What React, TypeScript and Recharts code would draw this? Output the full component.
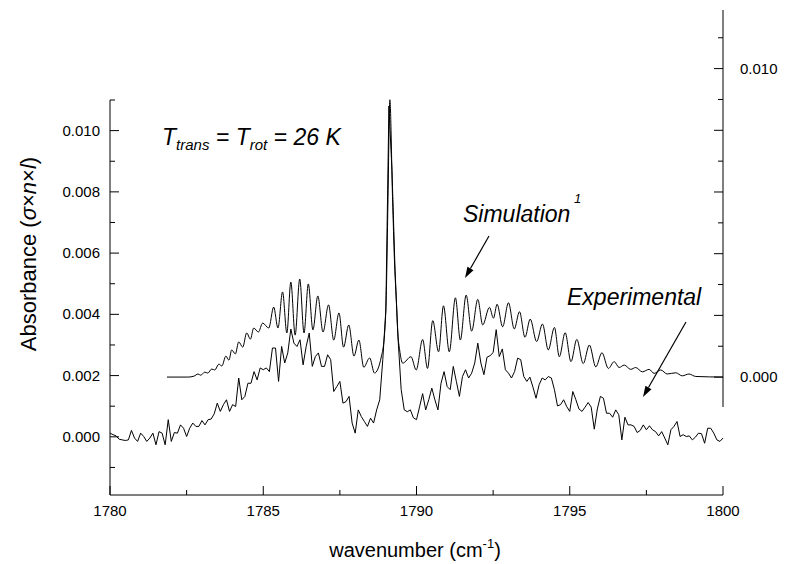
import React from "react";
import { LineChart, Line, XAxis, YAxis } from "recharts";

const FONT = '"Liberation Sans", Arial, Helvetica, sans-serif';

// x axis (wavenumber, cm-1)
const xTicks = [1780, 1782.5, 1785, 1787.5, 1790, 1792.5, 1795, 1797.5, 1800];
// left axis (absorbance), labels on the even ones
const leftTicks = [-0.001, 0, 0.001, 0.002, 0.003, 0.004, 0.005, 0.006, 0.007, 0.008, 0.009, 0.01, 0.011];
// right axis of the simulation, only 0.000 and 0.010 labelled
const rightTicks = [0, 0.001, 0.002, 0.003, 0.004, 0.005, 0.006, 0.007, 0.008, 0.009, 0.01, 0.011];
const rightLabels = [0, 0.01];

// simulated spectrum (right axis units)
const simWn = [
  1781.86, 1782.54, 1782.74, 1782.87, 1782.96, 1783.09, 1783.19, 1783.32, 1783.42, 1783.55,
  1783.65, 1783.78, 1783.88, 1783.97, 1784.09, 1784.2, 1784.33, 1784.46, 1784.58, 1784.69,
  1784.84, 1784.98, 1785.18, 1785.34, 1785.48, 1785.63, 1785.77, 1785.9, 1786.04, 1786.19,
  1786.33, 1786.47, 1786.62, 1786.78, 1786.95, 1787.13, 1787.3, 1787.47, 1787.62, 1787.79,
  1787.96, 1788.12, 1788.28, 1788.47, 1788.63, 1788.85, 1788.96, 1789.01, 1789.07, 1789.13,
  1789.22, 1789.28, 1789.34, 1789.39, 1789.45, 1789.55, 1789.82, 1789.99, 1790.2, 1790.36,
  1790.53, 1790.72, 1790.88, 1791.07, 1791.27, 1791.43, 1791.62, 1791.8, 1792.0, 1792.16,
  1792.38, 1792.51, 1792.63, 1792.81, 1793.0, 1793.19, 1793.36, 1793.54, 1793.71, 1793.92,
  1794.11, 1794.3, 1794.5, 1794.66, 1794.85, 1795.04, 1795.23, 1795.44, 1795.64, 1795.85,
  1796.05, 1796.26, 1796.45, 1796.61, 1796.78, 1796.99, 1797.15, 1797.37, 1797.59, 1797.75,
  1797.97, 1798.18, 1798.46, 1798.67, 1798.89, 1799.11, 1800,
];
const simAbs = [
  0, 0, 0.00003, 0.0001, 0.00006, 0.00016, 0.00013, 0.00026, 0.00023, 0.00042,
  0.00036, 0.00068, 0.00055, 0.00088, 0.00075, 0.00114, 0.00097, 0.00143, 0.00123, 0.00159,
  0.00146, 0.00175, 0.00159, 0.00227, 0.00159, 0.00276, 0.00143, 0.00308, 0.00136, 0.00318,
  0.00143, 0.00302, 0.00153, 0.00263, 0.00146, 0.00234, 0.0012, 0.00208, 0.00097, 0.00169,
  0.00068, 0.0012, 0.00032, 0.00062, 0.00013, 0.00065, 0.00143, 0.0025, 0.00575, 0.00899,
  0.00575, 0.0038, 0.0025, 0.00143, 0.00088, 0.00045, 0.00066, 0.00023, 0.00122, 0.00028,
  0.00183, 0.00082, 0.00231, 0.00082, 0.00257, 0.0012, 0.00266, 0.00149, 0.00252, 0.00169,
  0.00226, 0.00191, 0.00236, 0.00163, 0.00241, 0.00156, 0.00212, 0.00129, 0.00188, 0.00115,
  0.00172, 0.00088, 0.00161, 0.00066, 0.00144, 0.0005, 0.00122, 0.00044, 0.00104, 0.00033,
  0.00079, 0.00028, 0.0005, 0.00031, 0.00039, 0.00025, 0.00031, 0.00017, 0.00025, 0.00012,
  0.00023, 0.0001, 0.00014, 0.00004, 0.0001, 0.00002, 0,
];

// experimental spectrum, sampled every 0.1 cm-1 from 1780, in units of 1e-3
const expStart = 1780;
const expStep = 0.1;
const expMilliAbs = [
  0.12, 0.07, 0.03, -0.08, -0.1, -0.12, -0.1, 0.21, -0.04, -0.15,
  0.12, 0.01, -0.15, -0.04, 0.12, -0.26, 0.17, 0.12, -0.26, 0.56,
  -0.15, 0.14, 0.12, 0.39, 0.28, 0.01, 0.28, 0.45, 0.34, 0.34,
  0.53, 0.39, 0.56, 0.58, 0.75, 1.1, 0.83, 1.05, 1.21, 0.83,
  1.05, 0.99, 1.92, 1.21, 1.32, 1.75, 1.75, 2.13, 1.86, 2.25,
  2.19, 2.25, 2.13, 2.9, 2.9, 1.81, 2.95, 2.41, 2.74, 3.52,
  3.06, 2.95, 3.17, 2.35, 2.95, 3.39, 2.3, 2.62, 2.74, 2.3,
  2.3, 2.68, 2.52, 1.48, 1.64, 1.81, 1.1, 1.15, 1.32, 0.45,
  0.12, 0.88, 0.66, 0.5, 0.34, 0.61, 0.45, 0.88, 1.21, 2.52,
  4.15, 10.8, 8.7, 5.46, 3.17, 1.54, 0.88, 0.82, 0.88, 0.62,
  0.56, 0.98, 1.41, 0.88, 1.21, 1.59, 1.21, 0.88, 1.75, 2.13,
  1.64, 1.54, 2.3, 1.81, 1.32, 1.97, 2.19, 1.92, 2.08, 2.41,
  3.06, 2.41, 2.03, 2.6, 2.65, 2.75, 3.5, 2.62, 2.87, 2.19,
  2.08, 1.92, 2.13, 2.57, 2.52, 1.97, 1.81, 1.95, 1.62, 1.26,
  1.7, 1.92, 1.86, 1.97, 1.92, 1.54, 1.01, 1.05, 1.21, 0.99,
  0.83, 1.48, 1.21, 0.91, 0.83, 0.97, 1.12, 0.97, 0.25, 0.91,
  1.32, 1.26, 0.77, 0.77, 0.64, 0.88, 0.72, -0.1, 0.64, 0.39,
  0.39, 0.34, 0.14, 0.21, 0.39, 0.23, 0.36, 0.23, 0.17, 0.03,
  0.17, -0.04, -0.26, 0.23, 0.34, 0.5, 0.01, 0.07, 0.01, 0.03,
  -0.1, -0.01, 0.12, 0.1, -0.21, 0.28, 0.28, 0.12, -0.1, -0.15, -0.04,
];

const simData = simWn.map((wn, i) => ({ wn, sim: simAbs[i] }));
const expData = expMilliAbs.map((v, i) => ({
  wn: +(expStart + i * expStep).toFixed(1),
  exp: v / 1000,
}));

const W = 786;
const H = 564;

function XTick(props: any) {
  const { x, y, payload } = props;
  const v = payload.value;
  const major = Math.abs(v % 5) < 1e-6;
  return (
    <g>
      <line x1={x} x2={x} y1={y} y2={y - (major ? 9 : 5)} stroke="#000" />
      {major && (
        <text x={x} y={y + 21} textAnchor="middle" fontSize={15} fontFamily={FONT} fill="#000">
          {v}
        </text>
      )}
    </g>
  );
}

function LeftTick(props: any) {
  const { x, y, payload } = props;
  const k = Math.round(payload.value * 1000);
  const major = k % 2 === 0;
  return (
    <g>
      <line x1={x} x2={x + (major ? 9 : 5)} y1={y} y2={y} stroke="#000" />
      {major && (
        <text x={x - 10} y={y + 5} textAnchor="end" fontSize={15} fontFamily={FONT} fill="#000">
          {payload.value.toFixed(3)}
        </text>
      )}
    </g>
  );
}

function RightTick(props: any) {
  const { x, y, payload } = props;
  const k = Math.round(payload.value * 1000);
  const major = k % 2 === 0;
  const labelled = rightLabels.some((r) => Math.abs(r - payload.value) < 1e-9);
  return (
    <g>
      <line x1={x} x2={x - (major ? 9 : 5)} y1={y} y2={y} stroke="#000" />
      {labelled && (
        <text x={x + 17} y={y + 5} textAnchor="start" fontSize={15} fontFamily={FONT} fill="#000">
          {payload.value.toFixed(3)}
        </text>
      )}
    </g>
  );
}

function Arrow({ x1, y1, x2, y2 }: { x1: number; y1: number; x2: number; y2: number }) {
  const dx = x2 - x1;
  const dy = y2 - y1;
  const len = Math.hypot(dx, dy);
  const ux = dx / len;
  const uy = dy / len;
  const hl = 11;
  const hw = 3.5;
  const bx = x2 - ux * hl;
  const by = y2 - uy * hl;
  const pts = `${x2},${y2} ${bx - uy * hw},${by + ux * hw} ${bx + uy * hw},${by - ux * hw}`;
  return (
    <g>
      <line x1={x1} y1={y1} x2={bx} y2={by} stroke="#000" strokeWidth={1.2} />
      <polygon points={pts} fill="#000" />
    </g>
  );
}

export default function App() {
  const layer: React.CSSProperties = { position: "absolute", left: 0, top: 0 };
  return (
    <div style={{ position: "absolute", left: 0, top: 0, width: W, height: H, background: "#fff" }}>
      {/* experimental, left axis + wavenumber axis */}
      <div style={layer}>
        <LineChart width={W} height={H} data={expData} margin={{ top: 100, right: 63, bottom: 39, left: 50 }}>
          <XAxis
            dataKey="wn"
            type="number"
            domain={[1780, 1800]}
            ticks={xTicks}
            interval={0}
            height={30}
            tickSize={0}
            tickMargin={0}
            axisLine={{ stroke: "#000" }}
            tickLine={false}
            tick={<XTick />}
          />
          <YAxis
            type="number"
            domain={[-0.0019, 0.011]}
            ticks={leftTicks}
            interval={0}
            width={60}
            tickSize={0}
            tickMargin={0}
            allowDataOverflow
            axisLine={{ stroke: "#000" }}
            tickLine={false}
            tick={<LeftTick />}
          />
          <Line
            type="linear"
            dataKey="exp"
            stroke="#000"
            strokeWidth={1}
            dot={false}
            isAnimationActive={false}
          />
        </LineChart>
      </div>

      {/* simulation, on its own raised right axis */}
      <div style={{ ...layer, pointerEvents: "none" }}>
        <LineChart width={W} height={H} data={simData} margin={{ top: 10, right: 3, bottom: 157, left: 110 }}>
          <XAxis dataKey="wn" type="number" domain={[1780, 1800]} hide />
          <YAxis
            yAxisId="r"
            orientation="right"
            type="number"
            domain={[-0.00097, 0.0119]}
            ticks={rightTicks}
            interval={0}
            width={60}
            tickSize={0}
            tickMargin={0}
            allowDataOverflow
            axisLine={{ stroke: "#000" }}
            tickLine={false}
            tick={<RightTick />}
          />
          <Line
            yAxisId="r"
            type="monotone"
            dataKey="sim"
            stroke="#000"
            strokeWidth={1}
            dot={false}
            isAnimationActive={false}
          />
        </LineChart>
      </div>

      {/* annotations and axis titles */}
      <svg width={W} height={H} style={{ ...layer, pointerEvents: "none" }} fontFamily={FONT}>
        <text x={162} y={145} fontSize={23} fontStyle="italic" fill="#000" style={{ whiteSpace: "pre" }}>
          T<tspan fontSize={15} dy={5}>trans</tspan>
          <tspan fontSize={23} dy={-5}> = T</tspan>
          <tspan fontSize={15} dy={5}>rot</tspan>
          <tspan fontSize={23} dy={-5}> = 26 K</tspan>
        </text>

        <text x={463} y={222} fontSize={23} fontStyle="italic" fill="#000">Simulation</text>
        <text x={574} y={203} fontSize={13} fontStyle="italic" fill="#000">1</text>
        <Arrow x1={489} y1={236} x2={465} y2={278} />

        <text x={567} y={305} fontSize={23} fontStyle="italic" fill="#000">Experimental</text>
        <Arrow x1={686} y1={322} x2={643} y2={397} />

        <text transform="translate(36,254) rotate(-90)" textAnchor="middle" fontSize={22} fill="#000">
          Absorbance (<tspan fontStyle="italic">σ</tspan>×<tspan fontStyle="italic">n</tspan>×<tspan fontStyle="italic">l</tspan>)
        </text>

        <text x={415} y={557} textAnchor="middle" fontSize={20} fill="#000">
          wavenumber (cm<tspan fontSize={13} dy={-9}>-1</tspan>
          <tspan dy={9}>)</tspan>
        </text>
      </svg>
    </div>
  );
}
